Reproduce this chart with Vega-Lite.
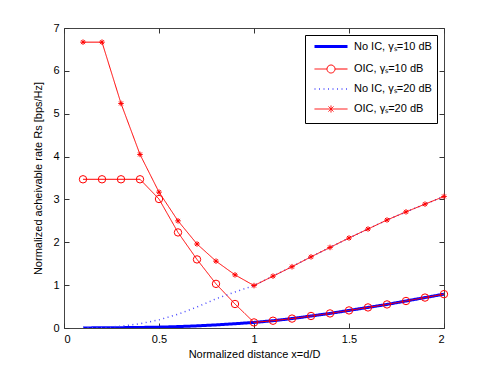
{
  "$schema": "https://vega.github.io/schema/vega-lite/v6.json",
  "width": 380,
  "height": 300,
  "autosize": {"type": "none"},
  "padding": {"left": 64, "top": 28, "right": 47, "bottom": 41},
  "background": "white",
  "config": {
    "font": "Liberation Sans",
    "view": {"stroke": "#444", "strokeWidth": 1},
    "axis": {
      "grid": false,
      "domain": false,
      "tickColor": "#333",
      "tickSize": -5,
      "labelFontSize": 11,
      "labelColor": "#000",
      "labelFont": "Liberation Sans",
      "titleFont": "Liberation Sans",
      "titleFontSize": 11,
      "titleFontWeight": "normal",
      "titleColor": "#000"
    },
    "legend": {
      "orient": "top-right",
      "offset": 7,
      "padding": 5,
      "strokeColor": "#000",
      "fillColor": "#fff",
      "labelFontSize": 11,
      "labelFont": "Liberation Sans",
      "labelColor": "#000",
      "symbolSize": 100,
      "symbolOffset": 14.5,
      "labelOffset": 16.5,
      "rowPadding": 1.5
    }
  },
  "data": {
    "values": [
      {"x": 0.1, "y": 0.002, "s": "No IC, γₛ=10 dB"},
      {"x": 0.2, "y": 0.004, "s": "No IC, γₛ=10 dB"},
      {"x": 0.3, "y": 0.008, "s": "No IC, γₛ=10 dB"},
      {"x": 0.4, "y": 0.013, "s": "No IC, γₛ=10 dB"},
      {"x": 0.5, "y": 0.02, "s": "No IC, γₛ=10 dB"},
      {"x": 0.6, "y": 0.033, "s": "No IC, γₛ=10 dB"},
      {"x": 0.7, "y": 0.05, "s": "No IC, γₛ=10 dB"},
      {"x": 0.8, "y": 0.072, "s": "No IC, γₛ=10 dB"},
      {"x": 0.9, "y": 0.1, "s": "No IC, γₛ=10 dB"},
      {"x": 1.0, "y": 0.13, "s": "No IC, γₛ=10 dB"},
      {"x": 1.1, "y": 0.17, "s": "No IC, γₛ=10 dB"},
      {"x": 1.2, "y": 0.22, "s": "No IC, γₛ=10 dB"},
      {"x": 1.3, "y": 0.28, "s": "No IC, γₛ=10 dB"},
      {"x": 1.4, "y": 0.34, "s": "No IC, γₛ=10 dB"},
      {"x": 1.5, "y": 0.41, "s": "No IC, γₛ=10 dB"},
      {"x": 1.6, "y": 0.48, "s": "No IC, γₛ=10 dB"},
      {"x": 1.7, "y": 0.55, "s": "No IC, γₛ=10 dB"},
      {"x": 1.8, "y": 0.63, "s": "No IC, γₛ=10 dB"},
      {"x": 1.9, "y": 0.71, "s": "No IC, γₛ=10 dB"},
      {"x": 2.0, "y": 0.79, "s": "No IC, γₛ=10 dB"},

      {"x": 0.1, "y": 3.47, "s": "OIC, γₛ=10 dB"},
      {"x": 0.2, "y": 3.47, "s": "OIC, γₛ=10 dB"},
      {"x": 0.3, "y": 3.47, "s": "OIC, γₛ=10 dB"},
      {"x": 0.4, "y": 3.47, "s": "OIC, γₛ=10 dB"},
      {"x": 0.5, "y": 3.01, "s": "OIC, γₛ=10 dB"},
      {"x": 0.6, "y": 2.23, "s": "OIC, γₛ=10 dB"},
      {"x": 0.7, "y": 1.6, "s": "OIC, γₛ=10 dB"},
      {"x": 0.8, "y": 1.03, "s": "OIC, γₛ=10 dB"},
      {"x": 0.9, "y": 0.56, "s": "OIC, γₛ=10 dB"},
      {"x": 1.0, "y": 0.13, "s": "OIC, γₛ=10 dB"},
      {"x": 1.1, "y": 0.17, "s": "OIC, γₛ=10 dB"},
      {"x": 1.2, "y": 0.22, "s": "OIC, γₛ=10 dB"},
      {"x": 1.3, "y": 0.28, "s": "OIC, γₛ=10 dB"},
      {"x": 1.4, "y": 0.34, "s": "OIC, γₛ=10 dB"},
      {"x": 1.5, "y": 0.41, "s": "OIC, γₛ=10 dB"},
      {"x": 1.6, "y": 0.48, "s": "OIC, γₛ=10 dB"},
      {"x": 1.7, "y": 0.55, "s": "OIC, γₛ=10 dB"},
      {"x": 1.8, "y": 0.63, "s": "OIC, γₛ=10 dB"},
      {"x": 1.9, "y": 0.71, "s": "OIC, γₛ=10 dB"},
      {"x": 2.0, "y": 0.79, "s": "OIC, γₛ=10 dB"},

      {"x": 0.1, "y": 0.003, "s": "No IC, γₛ=20 dB"},
      {"x": 0.2, "y": 0.015, "s": "No IC, γₛ=20 dB"},
      {"x": 0.3, "y": 0.04, "s": "No IC, γₛ=20 dB"},
      {"x": 0.4, "y": 0.1, "s": "No IC, γₛ=20 dB"},
      {"x": 0.5, "y": 0.19, "s": "No IC, γₛ=20 dB"},
      {"x": 0.6, "y": 0.32, "s": "No IC, γₛ=20 dB"},
      {"x": 0.7, "y": 0.49, "s": "No IC, γₛ=20 dB"},
      {"x": 0.8, "y": 0.68, "s": "No IC, γₛ=20 dB"},
      {"x": 0.9, "y": 0.84, "s": "No IC, γₛ=20 dB"},
      {"x": 1.0, "y": 0.99, "s": "No IC, γₛ=20 dB"},
      {"x": 1.1, "y": 1.21, "s": "No IC, γₛ=20 dB"},
      {"x": 1.2, "y": 1.43, "s": "No IC, γₛ=20 dB"},
      {"x": 1.3, "y": 1.66, "s": "No IC, γₛ=20 dB"},
      {"x": 1.4, "y": 1.88, "s": "No IC, γₛ=20 dB"},
      {"x": 1.5, "y": 2.1, "s": "No IC, γₛ=20 dB"},
      {"x": 1.6, "y": 2.31, "s": "No IC, γₛ=20 dB"},
      {"x": 1.7, "y": 2.52, "s": "No IC, γₛ=20 dB"},
      {"x": 1.8, "y": 2.71, "s": "No IC, γₛ=20 dB"},
      {"x": 1.9, "y": 2.89, "s": "No IC, γₛ=20 dB"},
      {"x": 2.0, "y": 3.07, "s": "No IC, γₛ=20 dB"},

      {"x": 0.1, "y": 6.67, "s": "OIC, γₛ=20 dB"},
      {"x": 0.2, "y": 6.67, "s": "OIC, γₛ=20 dB"},
      {"x": 0.3, "y": 5.24, "s": "OIC, γₛ=20 dB"},
      {"x": 0.4, "y": 4.05, "s": "OIC, γₛ=20 dB"},
      {"x": 0.5, "y": 3.17, "s": "OIC, γₛ=20 dB"},
      {"x": 0.6, "y": 2.5, "s": "OIC, γₛ=20 dB"},
      {"x": 0.7, "y": 1.96, "s": "OIC, γₛ=20 dB"},
      {"x": 0.8, "y": 1.56, "s": "OIC, γₛ=20 dB"},
      {"x": 0.9, "y": 1.24, "s": "OIC, γₛ=20 dB"},
      {"x": 1.0, "y": 0.99, "s": "OIC, γₛ=20 dB"},
      {"x": 1.1, "y": 1.21, "s": "OIC, γₛ=20 dB"},
      {"x": 1.2, "y": 1.43, "s": "OIC, γₛ=20 dB"},
      {"x": 1.3, "y": 1.66, "s": "OIC, γₛ=20 dB"},
      {"x": 1.4, "y": 1.88, "s": "OIC, γₛ=20 dB"},
      {"x": 1.5, "y": 2.1, "s": "OIC, γₛ=20 dB"},
      {"x": 1.6, "y": 2.31, "s": "OIC, γₛ=20 dB"},
      {"x": 1.7, "y": 2.52, "s": "OIC, γₛ=20 dB"},
      {"x": 1.8, "y": 2.71, "s": "OIC, γₛ=20 dB"},
      {"x": 1.9, "y": 2.89, "s": "OIC, γₛ=20 dB"},
      {"x": 2.0, "y": 3.07, "s": "OIC, γₛ=20 dB"}
    ]
  },
  "resolve": {"axis": {"x": "independent", "y": "independent"}},
  "layer": [
    {
      "mark": {"type": "line", "clip": true},
      "encoding": {
        "x": {
          "field": "x", "type": "quantitative",
          "scale": {"domain": [0, 2], "nice": false, "zero": false},
          "axis": {"orient": "bottom", "values": [0, 0.5, 1, 1.5, 2], "format": "~g", "title": "Normalized distance x=d/D", "labelPadding": 10, "titlePadding": 4}
        },
        "y": {
          "field": "y", "type": "quantitative",
          "scale": {"domain": [0, 7], "nice": false},
          "axis": {"orient": "left", "values": [0, 1, 2, 3, 4, 5, 6, 7], "format": "~g", "title": "Normalized acheivable rate Rs [bps/Hz]", "labelPadding": 10, "titlePadding": 9}
        },
        "color": {
          "field": "s", "type": "nominal",
          "scale": {
            "domain": ["No IC, γₛ=10 dB", "OIC, γₛ=10 dB", "No IC, γₛ=20 dB", "OIC, γₛ=20 dB"],
            "range": ["#0000ff", "#ff0000", "#4a4aff", "#ff0000"]
          },
          "legend": {
            "title": null,
            "encode": {
              "symbols": {
                "update": {
                  "shape": {"signal": "datum.value == 'OIC, γₛ=10 dB' ? 'M0,-1.3L0,-1.3M0,1.3L0,1.3M-3.3,0L-0.8,0M0.8,0L3.3,0M-0.8,0A0.8,0.8 0 1,1 0.8,0A0.8,0.8 0 1,1 -0.8,0' : (datum.value == 'OIC, γₛ=20 dB' ? 'M0,-1.3L0,-1.3M0,1.3L0,1.3M-3.3,0L3.3,0M0,-0.7L0,0.7M-0.5,-0.5L0.5,0.5M-0.5,0.5L0.5,-0.5' : 'M0,-1.3L0,-1.3M0,1.3L0,1.3M-3.3,0L3.3,0')"},
                  "stroke": {"signal": "indexof(datum.value, 'No IC') == 0 ? '#0000ff' : '#ff0000'"},
                  "strokeWidth": {"signal": "datum.value == 'No IC, γₛ=10 dB' ? 3 : (datum.value == 'No IC, γₛ=20 dB' ? 1.5 : 1)"},
                  "strokeDash": {"signal": "datum.value == 'No IC, γₛ=20 dB' ? [1, 3.5] : [1, 0]"},
                  "fill": {"value": "transparent"},
                  "opacity": {"value": 1}
                }
              }
            }
          }
        },
        "strokeWidth": {
          "field": "s", "type": "nominal",
          "scale": {
            "type": "ordinal",
            "domain": ["No IC, γₛ=10 dB", "OIC, γₛ=10 dB", "No IC, γₛ=20 dB", "OIC, γₛ=20 dB"],
            "range": [3, 1, 1.5, 1]
          },
          "legend": null
        },
        "strokeDash": {
          "field": "s", "type": "nominal",
          "scale": {
            "type": "ordinal",
            "domain": ["No IC, γₛ=10 dB", "OIC, γₛ=10 dB", "No IC, γₛ=20 dB", "OIC, γₛ=20 dB"],
            "range": [[1, 0], [1, 0], [1, 3.5], [1, 0]]
          },
          "legend": null
        }
      }
    },
    {
      "transform": [{"filter": "indexof(datum.s, 'OIC') == 0"}],
      "mark": {"type": "point", "filled": false, "strokeWidth": 1, "opacity": 1, "size": 55},
      "encoding": {
        "x": {
          "field": "x", "type": "quantitative",
          "axis": {"orient": "top", "values": [0, 0.5, 1, 1.5, 2], "labels": false, "title": null}
        },
        "y": {
          "field": "y", "type": "quantitative",
          "axis": {"orient": "right", "values": [0, 1, 2, 3, 4, 5, 6, 7], "labels": false, "title": null}
        },
        "color": {"field": "s", "type": "nominal"},
        "shape": {
          "field": "s", "type": "nominal",
          "scale": {
            "domain": ["OIC, γₛ=10 dB", "OIC, γₛ=20 dB"],
            "range": ["circle", "M-0.75,0L0.75,0M0,-0.75L0,0.75M-0.53,-0.53L0.53,0.53M-0.53,0.53L0.53,-0.53"]
          },
          "legend": null
        }
      }
    }
  ]
}
